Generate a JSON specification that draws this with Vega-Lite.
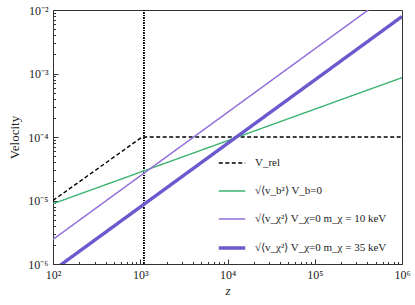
{
  "$schema": "https://vega.github.io/schema/vega-lite/v6.json",
  "autosize": "none",
  "width": 349,
  "height": 254,
  "padding": {"left": 53, "top": 10, "right": 13, "bottom": 41},
  "background": "white",
  "config": {
    "font": "Liberation Serif",
    "view": {"stroke": "#333333", "strokeWidth": 1},
    "axis": {
      "labelFont": "Liberation Serif",
      "titleFont": "Liberation Serif",
      "labelFontSize": 12,
      "titleFontSize": 13,
      "labelColor": "#222222",
      "titleColor": "#222222",
      "titleFontWeight": "normal",
      "domainColor": "#333333",
      "tickColor": "#333333",
      "grid": false,
      "labelOverlap": false,
      "labelFlush": false
    }
  },
  "data": {
    "values": [
      {"z": 100, "v": 1e-5, "s": "V_rel"},
      {"z": 1050, "v": 1e-4, "s": "V_rel"},
      {"z": 1000000, "v": 1e-4, "s": "V_rel"},
      {"z": 100, "v": 8.9e-6, "s": "√⟨v_b²⟩ V_b=0"},
      {"z": 1000000, "v": 8.6e-4, "s": "√⟨v_b²⟩ V_b=0"},
      {"z": 100, "v": 2.44e-6, "s": "√⟨v_χ²⟩ V_χ=0   m_χ = 10 keV"},
      {"z": 410000, "v": 1e-2, "s": "√⟨v_χ²⟩ V_χ=0   m_χ = 10 keV"},
      {"z": 100, "v": 7.9e-7, "s": "√⟨v_χ²⟩ V_χ=0   m_χ = 35 keV"},
      {"z": 1000000, "v": 7.9e-3, "s": "√⟨v_χ²⟩ V_χ=0   m_χ = 35 keV"}
    ]
  },
  "layer": [
    {
      "mark": {"type": "rule", "strokeDash": [1, 1.5], "color": "black", "strokeWidth": 1},
      "encoding": {"x": {"datum": 1100, "type": "quantitative"}}
    },
    {
      "mark": {"type": "line", "clip": true},
      "encoding": {
        "x": {
          "field": "z", "type": "quantitative",
          "scale": {"type": "log", "domain": [100, 1000000], "nice": false},
          "axis": {
            "title": "z",
            "titleFontStyle": "italic",
            "titlePadding": 2,
            "labelPadding": 10,
            "tickSize": {"condition": {"test": "abs(log(datum.value)/LN10 - round(log(datum.value)/LN10)) < 0.001", "value": -5}, "value": -2.5},
            "values": [100,200,300,400,500,600,700,800,900,1000,2000,3000,4000,5000,6000,7000,8000,9000,10000,20000,30000,40000,50000,60000,70000,80000,90000,100000,200000,300000,400000,500000,600000,700000,800000,900000,1000000],
            "labelExpr": "abs(log(datum.value)/LN10 - round(log(datum.value)/LN10)) < 0.001 ? '10' + ['⁰','¹','²','³','⁴','⁵','⁶','⁷','⁸','⁹'][round(log(datum.value)/LN10)] : ''"
          }
        },
        "y": {
          "field": "v", "type": "quantitative",
          "scale": {"type": "log", "domain": [1e-6, 1e-2], "nice": false},
          "axis": {
            "title": "Velocity",
            "titlePadding": 6,
            "labelPadding": 10,
            "tickSize": {"condition": {"test": "abs(log(datum.value)/LN10 - round(log(datum.value)/LN10)) < 0.001", "value": -5}, "value": -2.5},
            "values": [1e-6,2e-6,3e-6,4e-6,5e-6,6e-6,7e-6,8e-6,9e-6,1e-5,2e-5,3e-5,4e-5,5e-5,6e-5,7e-5,8e-5,9e-5,1e-4,2e-4,3e-4,4e-4,5e-4,6e-4,7e-4,8e-4,9e-4,1e-3,2e-3,3e-3,4e-3,5e-3,6e-3,7e-3,8e-3,9e-3,1e-2],
            "labelExpr": "abs(log(datum.value)/LN10 - round(log(datum.value)/LN10)) < 0.001 ? '10⁻' + ['⁰','¹','²','³','⁴','⁵','⁶','⁷','⁸','⁹'][abs(round(log(datum.value)/LN10))] : ''"
          }
        },
        "color": {
          "field": "s", "type": "nominal",
          "scale": {
            "domain": ["V_rel", "√⟨v_b²⟩ V_b=0", "√⟨v_χ²⟩ V_χ=0   m_χ = 10 keV", "√⟨v_χ²⟩ V_χ=0   m_χ = 35 keV"],
            "range": ["#000000", "#3cb371", "#9370db", "#6a5acd"]
          },
          "legend": {
            "title": null,
            "orient": "none",
            "legendX": 164,
            "legendY": 139,
            "symbolType": "stroke",
            "symbolSize": 700,
            "labelFont": "Liberation Serif",
            "labelFontSize": 11,
            "labelColor": "#222222",
            "rowPadding": 9,
            "labelOffset": 8
          }
        },
        "strokeDash": {
          "field": "s", "type": "nominal",
          "scale": {
            "domain": ["V_rel", "√⟨v_b²⟩ V_b=0", "√⟨v_χ²⟩ V_χ=0   m_χ = 10 keV", "√⟨v_χ²⟩ V_χ=0   m_χ = 35 keV"],
            "range": [[4, 2.5], [1, 0], [1, 0], [1, 0]]
          },
          "legend": null
        },
        "strokeWidth": {
          "field": "s", "type": "ordinal",
          "scale": {
            "type": "ordinal",
            "domain": ["V_rel", "√⟨v_b²⟩ V_b=0", "√⟨v_χ²⟩ V_χ=0   m_χ = 10 keV", "√⟨v_χ²⟩ V_χ=0   m_χ = 35 keV"],
            "range": [1.4, 1.4, 1.5, 3.4]
          },
          "legend": null
        }
      }
    }
  ]
}
